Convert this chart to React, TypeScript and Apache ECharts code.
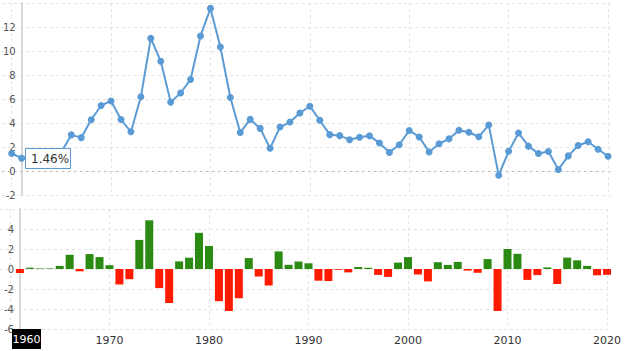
import React, { useEffect, useRef } from "react";
import * as echarts from "echarts";

const years = [
  1960, 1961, 1962, 1963, 1964, 1965, 1966, 1967, 1968, 1969,
  1970, 1971, 1972, 1973, 1974, 1975, 1976, 1977, 1978, 1979,
  1980, 1981, 1982, 1983, 1984, 1985, 1986, 1987, 1988, 1989,
  1990, 1991, 1992, 1993, 1994, 1995, 1996, 1997, 1998, 1999,
  2000, 2001, 2002, 2003, 2004, 2005, 2006, 2007, 2008, 2009,
  2010, 2011, 2012, 2013, 2014, 2015, 2016, 2017, 2018, 2019,
  2020,
];

const inflationRate = [
  1.46, 1.07, 1.2, 1.24, 1.28, 1.59, 3.01, 2.78, 4.27, 5.46,
  5.84, 4.29, 3.27, 6.18, 11.05, 9.14, 5.74, 6.5, 7.63, 11.25,
  13.55, 10.33, 6.13, 3.21, 4.3, 3.55, 1.9, 3.66, 4.08, 4.83,
  5.4, 4.23, 3.03, 2.95, 2.61, 2.81, 2.93, 2.34, 1.55, 2.19,
  3.38, 2.83, 1.59, 2.27, 2.68, 3.39, 3.23, 2.85, 3.84, -0.36,
  1.64, 3.16, 2.07, 1.46, 1.62, 0.12, 1.26, 2.13, 2.44, 1.81,
  1.23,
];

const annualChange = [
  null, -0.39, 0.13, 0.06, 0.06, 0.31, 1.42, -0.23, 1.49, 1.19,
  0.38, -1.55, -1.02, 2.91, 4.87, -1.91, -3.4, 0.76, 1.13, 3.62,
  2.3, -3.22, -4.2, -2.92, 1.09, -0.75, -1.65, 1.76, 0.42, 0.75,
  0.57, -1.17, -1.2, -0.08, -0.34, 0.2, 0.12, -0.59, -0.79, 0.64,
  1.19, -0.55, -1.24, 0.68, 0.41, 0.71, -0.16, -0.38, 0.99, -4.2,
  2.0, 1.52, -1.09, -0.61, 0.16, -1.5, 1.14, 0.87, 0.31, -0.63,
  -0.58,
];

const xGridYears = [1960, 1970, 1980, 1990, 2000, 2010, 2020];
const xLabelYears = [1970, 1980, 1990, 2000, 2010, 2020];
const topTicks = [-2, 0, 2, 4, 6, 8, 10, 12, 14];
const bottomTicks = [-6, -4, -2, 0, 2, 4, 6];
const tooltipYear = "1960";
const tooltipValue = "1.46%";

const FONT = "DejaVu Sans";
const LINE = "#5b9bd5";
const GREEN = "#2b8a12";
const RED = "#ff1a00";
const GRIDC = "#e4e4e4";

export default function App() {
  const ref = useRef<HTMLDivElement>(null);

  useEffect(() => {
    if (!ref.current) return;
    const chart = echarts.init(ref.current, null, { renderer: "svg" });
    const GL = 0;
    const yOffset = -(20 - GL);

    const xBase = {
      type: "value" as const,
      min: 1959,
      max: 2020.4,
      axisLine: { show: false },
      axisTick: { show: false, customValues: xGridYears },
      splitLine: {
        show: true,
        lineStyle: { color: GRIDC, type: [3, 3] as any, width: 1 },
      },
    };

    const topSplitColors = topTicks.map((t) => (t === 0 ? "#bdbdbd" : GRIDC));
    const bottomSplitColors = bottomTicks.map(() => GRIDC);

    chart.setOption({
      animation: false,
      backgroundColor: "#ffffff",
      grid: [
        { left: GL, right: 12, top: 3, height: 192 },
        { left: GL, right: 12, top: 209, height: 120 },
      ],
      xAxis: [
        {
          ...xBase,
          gridIndex: 0,
          axisLabel: { show: false, customValues: xGridYears },
        },
        {
          ...xBase,
          gridIndex: 1,
          axisLabel: {
            show: true,
            customValues: xLabelYears,
            color: "#333",
            fontSize: 11,
            fontFamily: FONT,
            margin: 6,
            formatter: (v: number) => String(Math.round(v)),
          },
        },
      ],
      yAxis: [
        {
          type: "value",
          gridIndex: 0,
          min: topTicks[0],
          max: topTicks[topTicks.length - 1],
          interval: 2,
          offset: yOffset,
          axisLine: { show: true, lineStyle: { color: "#cccccc", width: 1.5 } },
          axisTick: { show: false },
          axisLabel: {
            color: "#555",
            fontSize: 10,
            fontFamily: FONT,
            margin: 6,
            padding: [0, 0, 7, 0],
            formatter: (v: number) => (v === 14 ? "" : String(v)),
          },
          splitLine: {
            show: true,
            lineStyle: { color: topSplitColors, type: [3, 3] as any, width: 1 },
          },
        },
        {
          type: "value",
          gridIndex: 1,
          min: bottomTicks[0],
          max: bottomTicks[bottomTicks.length - 1],
          interval: 2,
          offset: yOffset,
          axisLine: { show: true, lineStyle: { color: "#cccccc", width: 1.5 } },
          axisTick: { show: false },
          axisLabel: {
            color: "#555",
            fontSize: 10,
            fontFamily: FONT,
            margin: 6,
            padding: [0, 0, 7, 0],
            formatter: (v: number) => (v === 6 ? "" : String(v)),
          },
          splitLine: {
            show: true,
            lineStyle: { color: bottomSplitColors, type: [3, 3] as any, width: 1 },
          },
        },
      ],
      series: [
        {
          type: "line",
          xAxisIndex: 0,
          yAxisIndex: 0,
          data: years.map((y, i) => [y, inflationRate[i]]),
          symbol: "circle",
          symbolSize: 7,
          showAllSymbol: true,
          lineStyle: { color: LINE, width: 2 },
          itemStyle: { color: LINE },
          z: 3,
        },
        {
          type: "bar",
          xAxisIndex: 1,
          yAxisIndex: 1,
          barWidth: 8,
          data: years
            .map((y, i) => [y, annualChange[i]])
            .filter((d) => d[1] !== null),
          itemStyle: {
            color: (p: any) => (p.value[1] >= 0 ? GREEN : RED),
          },
        },
      ],
      graphic: [
        {
          type: "rect",
          z: 100,
          shape: { x: 25.5, y: 148.5, width: 45, height: 20 },
          style: { fill: "#ffffff", stroke: LINE, lineWidth: 1 },
        },
        {
          type: "text",
          z: 101,
          x: 31,
          y: 158.5,
          style: {
            text: tooltipValue,
            fill: "#333",
            font: `12px ${FONT}`,
            verticalAlign: "middle",
          },
        },
        {
          type: "rect",
          z: 100,
          shape: { x: 12, y: 329, width: 29, height: 20 },
          style: { fill: "#000000" },
        },
        {
          type: "text",
          z: 101,
          x: 26.5,
          y: 339,
          style: {
            text: tooltipYear,
            fill: "#ffffff",
            font: `11px ${FONT}`,
            align: "center",
            verticalAlign: "middle",
          },
        },
      ],
    });

    return () => chart.dispose();
  }, []);

  return (
    <div
      ref={ref}
      style={{
        position: "absolute",
        left: 0,
        top: 0,
        width: 624,
        height: 351,
        background: "#fff",
      }}
    />
  );
}
